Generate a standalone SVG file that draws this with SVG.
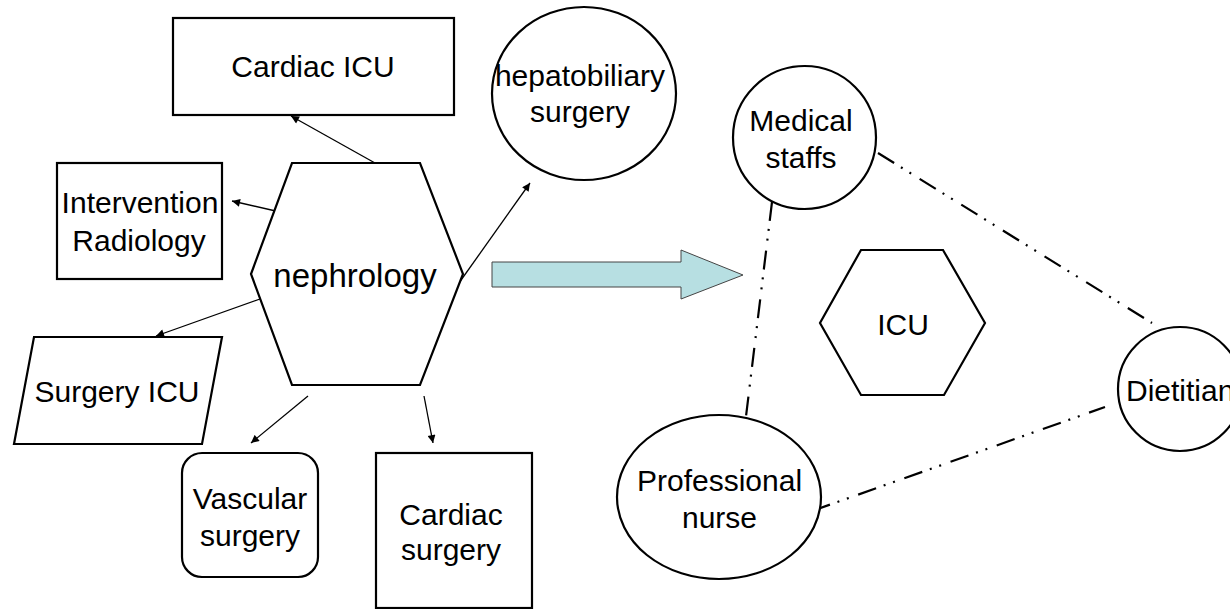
<svg xmlns="http://www.w3.org/2000/svg" width="1230" height="609" viewBox="0 0 1230 609">
<defs>
<style>
.shape{fill:#fff;stroke:#000;stroke-width:2.2}
.t{font-family:"Liberation Sans",Arial,sans-serif;font-size:30px;fill:#000;text-anchor:middle}
.arr{stroke:#000;stroke-width:1.3;fill:none;marker-end:url(#ah)}
.dd{stroke:#000;stroke-width:2.2;fill:none;stroke-dasharray:19 8 2 8 2 10}
</style>
<marker id="ah" viewBox="0 0 10 10" refX="10" refY="5" markerWidth="9" markerHeight="8" markerUnits="userSpaceOnUse" orient="auto">
<path d="M0,0 L10,5 L0,10 z" fill="#000"/>
</marker>
</defs>
<rect width="1230" height="609" fill="#fff"/>

<g id="connectors">
<line class="arr" x1="375" y1="163" x2="291" y2="116"/>
<line class="arr" x1="280" y1="212" x2="232" y2="201"/>
<line class="arr" x1="260" y1="299" x2="156" y2="336"/>
<line class="arr" x1="308" y1="396" x2="251" y2="443"/>
<line class="arr" x1="424" y1="396" x2="433" y2="443"/>
<line class="arr" x1="454" y1="290" x2="530" y2="183"/>
<line class="dd" x1="772" y1="202" x2="744" y2="433"/>
<line class="dd" x1="878" y1="153" x2="1152" y2="323"/>
<line class="dd" x1="812" y1="511" x2="1105" y2="407"/>
<path id="bigarrow" d="M492,262 L681,262 L681,250 L743,275 L681,299 L681,287 L492,287 Z" fill="#b7dfe2" stroke="#444" stroke-width="1"/>
</g>

<g id="cardiac-icu">
<rect class="shape" x="173" y="18" width="281" height="97"/>
<text class="t" x="313" y="77">Cardiac ICU</text>
</g>

<g id="intervention-radiology">
<rect class="shape" x="57" y="163" width="165" height="116"/>
<text class="t" x="140" y="213">Intervention</text>
<text class="t" x="139" y="251">Radiology</text>
</g>

<g id="nephrology">
<polygon class="shape" points="292,163 420,163 463,274 420,385 292,385 251,274"/>
<text class="t" x="355" y="287" style="font-size:33px">nephrology</text>
</g>

<g id="surgery-icu">
<polygon class="shape" points="34,337 222,337 202,444 14,444"/>
<text class="t" x="117" y="402">Surgery ICU</text>
</g>

<g id="vascular-surgery">
<rect class="shape" x="182" y="453" width="136" height="124" rx="20" ry="20"/>
<text class="t" x="250" y="509">Vascular</text>
<text class="t" x="250" y="546">surgery</text>
</g>

<g id="cardiac-surgery">
<rect class="shape" x="376" y="453" width="156" height="155"/>
<text class="t" x="451" y="525">Cardiac</text>
<text class="t" x="451" y="560">surgery</text>
</g>

<g id="hepatobiliary-surgery">
<ellipse class="shape" cx="584" cy="93.5" rx="92" ry="86.5"/>
<text class="t" x="580" y="86">hepatobiliary</text>
<text class="t" x="580" y="122">surgery</text>
</g>

<g id="medical-staffs">
<ellipse class="shape" cx="804.5" cy="137.5" rx="71.5" ry="71.5"/>
<text class="t" x="801" y="131">Medical</text>
<text class="t" x="801" y="168">staffs</text>
</g>

<g id="icu">
<polygon class="shape" points="861,250 943,250 985,323 944,395 861,395 820,323"/>
<text class="t" x="903" y="335">ICU</text>
</g>

<g id="professional-nurse">
<ellipse class="shape" cx="719" cy="497" rx="102" ry="82"/>
<text class="t" x="719.5" y="491">Professional</text>
<text class="t" x="719.5" y="528">nurse</text>
</g>

<g id="dietitian">
<ellipse class="shape" cx="1180" cy="389" rx="62" ry="62"/>
<text class="t" x="1126" y="401" style="text-anchor:start">Dietitian</text>
</g>
</svg>
